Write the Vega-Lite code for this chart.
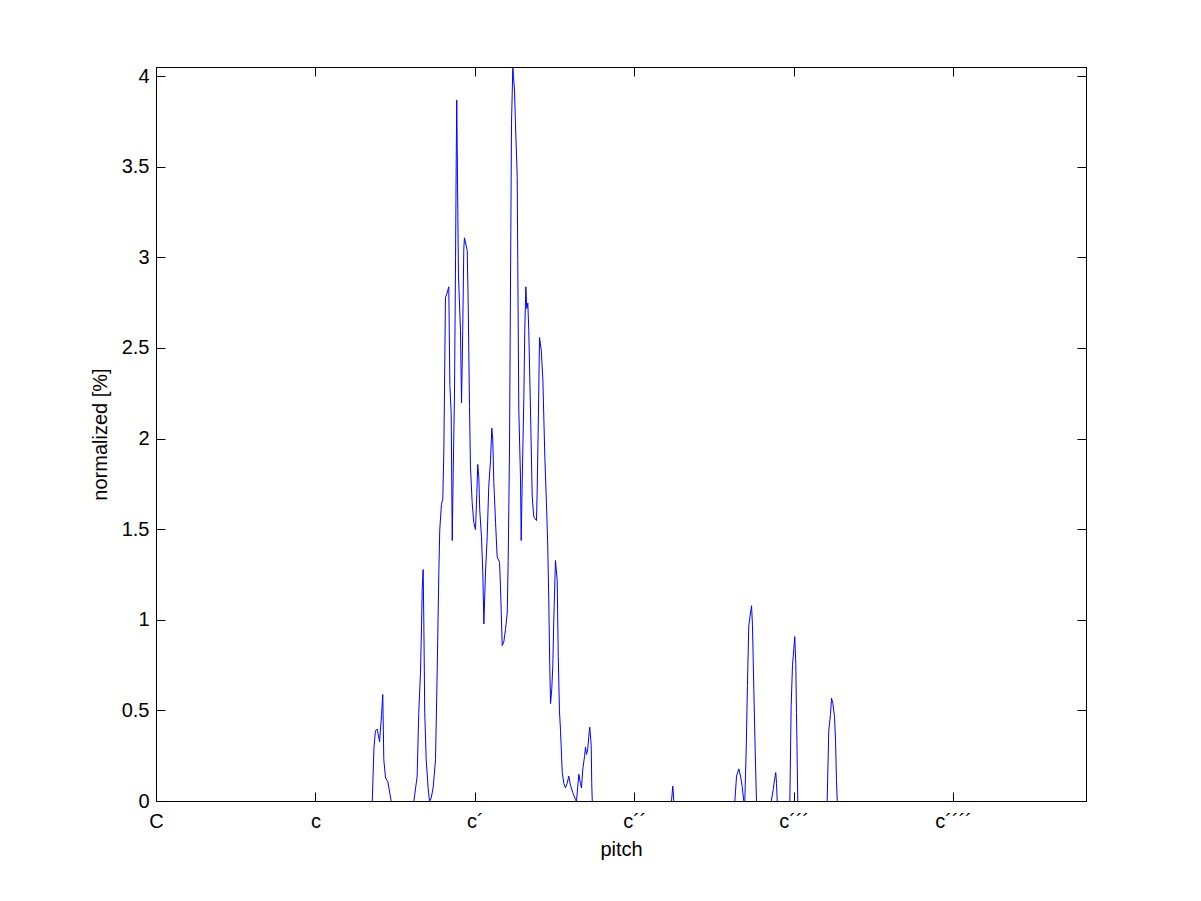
{
  "$schema": "https://vega.github.io/schema/vega-lite/v6.json",
  "width": 930,
  "height": 734,
  "autosize": {"type": "none"},
  "padding": {"left": 156, "top": 67, "right": 115, "bottom": 100},
  "background": "white",
  "config": {
    "view": {"stroke": "black", "strokeWidth": 1},
    "axis": {
      "grid": false,
      "domainColor": "black",
      "domainWidth": 1,
      "tickColor": "black",
      "labelColor": "black",
      "titleColor": "black",
      "labelFont": "Liberation Sans",
      "titleFont": "Liberation Sans",
      "labelFontSize": 20,
      "titleFontSize": 20,
      "titleFontWeight": "normal",
      "tickSize": -9,
      "labelOverlap": false,
      "labelFlush": false,
      "labelBound": false
    }
  },
  "data": {
    "values": [
      {"pitch": 0, "value": 0}, {"pitch": 16.24, "value": 0}, {"pitch": 16.37, "value": 0.3}, {"pitch": 16.48, "value": 0.39}, {"pitch": 16.61, "value": 0.4}, {"pitch": 16.79, "value": 0.33}, {"pitch": 16.94, "value": 0.48}, {"pitch": 17.03, "value": 0.59}, {"pitch": 17.11, "value": 0.23}, {"pitch": 17.24, "value": 0.13}, {"pitch": 17.41, "value": 0.11}, {"pitch": 17.67, "value": 0},
      {"pitch": 19.37, "value": 0}, {"pitch": 19.62, "value": 0.14}, {"pitch": 19.74, "value": 0.49}, {"pitch": 19.87, "value": 0.71}, {"pitch": 19.95, "value": 0.97}, {"pitch": 20.0, "value": 1.17}, {"pitch": 20.07, "value": 1.28}, {"pitch": 20.12, "value": 1.0}, {"pitch": 20.19, "value": 0.49}, {"pitch": 20.3, "value": 0.23}, {"pitch": 20.45, "value": 0.07}, {"pitch": 20.55, "value": 0},
      {"pitch": 20.68, "value": 0.02}, {"pitch": 20.83, "value": 0.08}, {"pitch": 21.0, "value": 0.23}, {"pitch": 21.13, "value": 0.73}, {"pitch": 21.25, "value": 1.26}, {"pitch": 21.32, "value": 1.5}, {"pitch": 21.45, "value": 1.64}, {"pitch": 21.55, "value": 1.67}, {"pitch": 21.63, "value": 1.94}, {"pitch": 21.75, "value": 2.78}, {"pitch": 21.85, "value": 2.8}, {"pitch": 22.0, "value": 2.84}, {"pitch": 22.08, "value": 2.3}, {"pitch": 22.18, "value": 2.14}, {"pitch": 22.26, "value": 1.44}, {"pitch": 22.33, "value": 1.8}, {"pitch": 22.43, "value": 2.25}, {"pitch": 22.51, "value": 3.0}, {"pitch": 22.56, "value": 3.54}, {"pitch": 22.6, "value": 3.87}, {"pitch": 22.66, "value": 3.4}, {"pitch": 22.73, "value": 2.9}, {"pitch": 22.88, "value": 2.6}, {"pitch": 22.96, "value": 2.2}, {"pitch": 23.05, "value": 2.6}, {"pitch": 23.13, "value": 3.05}, {"pitch": 23.18, "value": 3.11}, {"pitch": 23.39, "value": 3.04}, {"pitch": 23.46, "value": 2.75}, {"pitch": 23.56, "value": 2.18}, {"pitch": 23.63, "value": 1.85}, {"pitch": 23.76, "value": 1.65}, {"pitch": 23.88, "value": 1.54}, {"pitch": 24.01, "value": 1.5}, {"pitch": 24.11, "value": 1.7}, {"pitch": 24.18, "value": 1.86}, {"pitch": 24.26, "value": 1.79}, {"pitch": 24.33, "value": 1.61}, {"pitch": 24.46, "value": 1.46}, {"pitch": 24.56, "value": 1.26}, {"pitch": 24.64, "value": 0.98}, {"pitch": 24.76, "value": 1.26}, {"pitch": 24.89, "value": 1.46}, {"pitch": 25.01, "value": 1.74}, {"pitch": 25.14, "value": 1.88}, {"pitch": 25.24, "value": 2.06}, {"pitch": 25.31, "value": 2.0}, {"pitch": 25.39, "value": 1.76}, {"pitch": 25.52, "value": 1.54}, {"pitch": 25.64, "value": 1.35}, {"pitch": 25.82, "value": 1.32}, {"pitch": 25.89, "value": 1.19}, {"pitch": 26.02, "value": 0.86}, {"pitch": 26.14, "value": 0.88}, {"pitch": 26.27, "value": 0.95}, {"pitch": 26.4, "value": 1.04}, {"pitch": 26.47, "value": 1.33}, {"pitch": 26.57, "value": 1.94}, {"pitch": 26.62, "value": 2.55}, {"pitch": 26.67, "value": 3.15}, {"pitch": 26.72, "value": 3.74}, {"pitch": 26.82, "value": 4.05}, {"pitch": 26.87, "value": 4.0}, {"pitch": 26.95, "value": 3.92}, {"pitch": 27.02, "value": 3.74}, {"pitch": 27.15, "value": 3.45}, {"pitch": 27.19, "value": 2.99}, {"pitch": 27.27, "value": 2.16}, {"pitch": 27.4, "value": 1.78}, {"pitch": 27.45, "value": 1.44}, {"pitch": 27.53, "value": 1.78}, {"pitch": 27.65, "value": 2.23}, {"pitch": 27.72, "value": 2.6}, {"pitch": 27.8, "value": 2.84}, {"pitch": 27.87, "value": 2.72}, {"pitch": 27.95, "value": 2.75}, {"pitch": 28.02, "value": 2.6}, {"pitch": 28.15, "value": 2.16}, {"pitch": 28.28, "value": 1.68}, {"pitch": 28.4, "value": 1.57}, {"pitch": 28.6, "value": 1.55}, {"pitch": 28.65, "value": 1.7}, {"pitch": 28.73, "value": 2.05}, {"pitch": 28.83, "value": 2.56}, {"pitch": 28.96, "value": 2.49}, {"pitch": 29.08, "value": 2.33}, {"pitch": 29.23, "value": 1.9}, {"pitch": 29.35, "value": 1.65}, {"pitch": 29.45, "value": 1.41}, {"pitch": 29.53, "value": 1.1}, {"pitch": 29.6, "value": 0.75}, {"pitch": 29.66, "value": 0.54}, {"pitch": 29.75, "value": 0.62}, {"pitch": 29.83, "value": 0.75}, {"pitch": 29.9, "value": 0.99}, {"pitch": 30.03, "value": 1.33}, {"pitch": 30.16, "value": 1.22}, {"pitch": 30.24, "value": 0.8}, {"pitch": 30.33, "value": 0.5}, {"pitch": 30.41, "value": 0.39}, {"pitch": 30.54, "value": 0.16}, {"pitch": 30.66, "value": 0.1}, {"pitch": 30.78, "value": 0.075}, {"pitch": 30.91, "value": 0.1}, {"pitch": 31.03, "value": 0.14}, {"pitch": 31.16, "value": 0.09}, {"pitch": 31.33, "value": 0.05}, {"pitch": 31.54, "value": 0.01}, {"pitch": 31.61, "value": 0}, {"pitch": 31.71, "value": 0.085}, {"pitch": 31.79, "value": 0.15}, {"pitch": 31.91, "value": 0.1}, {"pitch": 31.99, "value": 0.075}, {"pitch": 32.09, "value": 0.18}, {"pitch": 32.22, "value": 0.25}, {"pitch": 32.29, "value": 0.3}, {"pitch": 32.37, "value": 0.26}, {"pitch": 32.46, "value": 0.29}, {"pitch": 32.54, "value": 0.36}, {"pitch": 32.61, "value": 0.41}, {"pitch": 32.72, "value": 0.31}, {"pitch": 32.76, "value": 0.1}, {"pitch": 32.8, "value": 0},
      {"pitch": 38.76, "value": 0}, {"pitch": 38.86, "value": 0.085}, {"pitch": 38.94, "value": 0},
      {"pitch": 43.53, "value": 0}, {"pitch": 43.66, "value": 0.14}, {"pitch": 43.83, "value": 0.18}, {"pitch": 43.96, "value": 0.14}, {"pitch": 44.08, "value": 0.085}, {"pitch": 44.21, "value": 0}, {"pitch": 44.28, "value": 0}, {"pitch": 44.39, "value": 0.3}, {"pitch": 44.48, "value": 0.64}, {"pitch": 44.58, "value": 0.97}, {"pitch": 44.71, "value": 1.04}, {"pitch": 44.79, "value": 1.08}, {"pitch": 44.86, "value": 0.97}, {"pitch": 44.96, "value": 0.62}, {"pitch": 45.06, "value": 0.29}, {"pitch": 45.16, "value": 0},
      {"pitch": 46.27, "value": 0}, {"pitch": 46.42, "value": 0.066}, {"pitch": 46.52, "value": 0.12}, {"pitch": 46.61, "value": 0.16}, {"pitch": 46.67, "value": 0.1}, {"pitch": 46.72, "value": 0},
      {"pitch": 47.67, "value": 0}, {"pitch": 47.77, "value": 0.53}, {"pitch": 47.87, "value": 0.75}, {"pitch": 47.97, "value": 0.84}, {"pitch": 48.04, "value": 0.91}, {"pitch": 48.12, "value": 0.76}, {"pitch": 48.17, "value": 0.49}, {"pitch": 48.27, "value": 0},
      {"pitch": 50.48, "value": 0}, {"pitch": 50.6, "value": 0.39}, {"pitch": 50.73, "value": 0.48}, {"pitch": 50.81, "value": 0.57}, {"pitch": 50.91, "value": 0.54}, {"pitch": 51.03, "value": 0.47}, {"pitch": 51.11, "value": 0.34}, {"pitch": 51.18, "value": 0.12}, {"pitch": 51.24, "value": 0},
      {"pitch": 70, "value": 0}
    ]
  },
  "resolve": {"axis": {"x": "independent", "y": "independent"}},
  "layer": [
    {
      "mark": {"type": "line", "color": "#0000ff", "strokeWidth": 1, "clip": false, "yOffset": 0.5, "xOffset": 0.5},
      "encoding": {
        "x": {
          "field": "pitch", "type": "quantitative",
          "scale": {"domain": [0, 70], "nice": false, "zero": false},
          "axis": {
            "orient": "bottom",
            "zindex": 2,
            "values": [0, 12, 24, 36, 48, 60],
            "labelExpr": "datum.value == 0 ? 'C' : datum.value == 12 ? 'c' : datum.value == 24 ? 'c´' : datum.value == 36 ? 'c´´' : datum.value == 48 ? 'c´´´' : 'c´´´´'",
            "labelAlign": "center",
            "labelBaseline": "alphabetic",
            "labelPadding": 35,
            "title": "pitch",
            "titleX": 465,
            "titleY": 54,
            "titleBaseline": "alphabetic",
            "titleAlign": "center"
          }
        },
        "y": {
          "field": "value", "type": "quantitative",
          "scale": {"domain": [0, 4.05], "nice": false, "zero": false},
          "axis": {
            "orient": "left",
            "zindex": 2,
            "values": [0, 0.5, 1, 1.5, 2, 2.5, 3, 3.5, 4],
            "format": "~g",
            "labelPadding": 16,
            "title": "normalized [%]",
            "titleX": -50,
            "titleY": 367,
            "titleAngle": -90,
            "titleBaseline": "alphabetic",
            "titleAlign": "center"
          }
        }
      }
    },
    {
      "mark": {"type": "line", "color": "#0000ff", "strokeWidth": 1, "opacity": 0},
      "encoding": {
        "x": {
          "field": "pitch", "type": "quantitative",
          "scale": {"domain": [0, 70], "nice": false, "zero": false},
          "axis": {"orient": "top", "zindex": 2, "values": [0, 12, 24, 36, 48, 60], "labels": false, "title": null}
        },
        "y": {
          "field": "value", "type": "quantitative",
          "scale": {"domain": [0, 4.05], "nice": false, "zero": false},
          "axis": {"orient": "right", "zindex": 2, "values": [0, 0.5, 1, 1.5, 2, 2.5, 3, 3.5, 4], "labels": false, "title": null}
        }
      }
    }
  ]
}
